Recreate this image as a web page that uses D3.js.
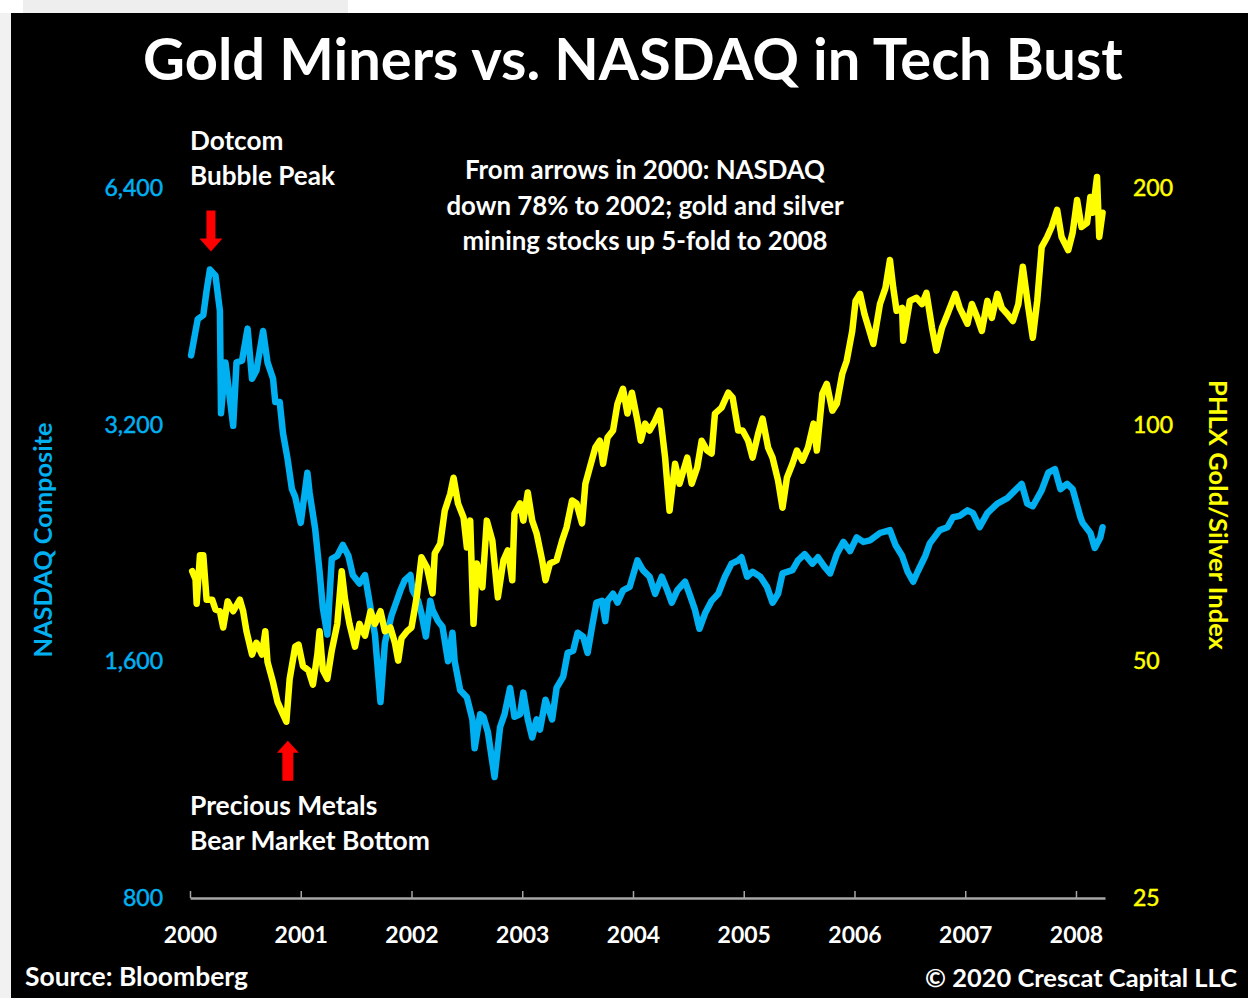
<!DOCTYPE html>
<html>
<head>
<meta charset="utf-8">
<title>Gold Miners vs. NASDAQ in Tech Bust</title>
<script src="https://cdnjs.cloudflare.com/ajax/libs/d3/7.8.5/d3.min.js"></script>
<style>
    body { margin: 0; background: #fff; }
    svg text { font-family: Lato, "Open Sans", sans-serif; }
</style>
</head>
<body>
<div id="chart"></div>
<script>
// NASDAQ Composite, [decimal year, index level]
const nasdaq = [
    [2000.01,3920],[2000.05,4210],[2000.07,4360],[2000.12,4410],[2000.15,4740],[2000.18,5040],[2000.23,4950],[2000.27,4470],
    [2000.28,3310],[2000.32,3840],[2000.39,3190],[2000.42,3840],[2000.47,3860],[2000.52,4240],[2000.56,3660],[2000.60,3750],
    [2000.66,4210],[2000.70,3840],[2000.75,3660],[2000.77,3420],[2000.81,3420],[2000.84,3120],[2000.88,2900],[2000.92,2650],
    [2000.95,2590],[2001.00,2400],[2001.06,2780],[2001.08,2620],[2001.13,2360],[2001.17,2080],[2001.20,1870],[2001.24,1730],
    [2001.28,2160],[2001.33,2180],[2001.38,2250],[2001.43,2180],[2001.47,2060],[2001.53,2010],[2001.58,2060],[2001.63,1870],
    [2001.67,1730],[2001.72,1420],[2001.76,1690],[2001.82,1830],[2001.90,1970],[2001.94,2030],[2001.99,2060],[2002.01,1970],
    [2002.06,1910],[2002.09,1840],[2002.13,1720],[2002.17,1910],[2002.19,1860],[2002.24,1800],[2002.28,1770],[2002.33,1600],
    [2002.37,1740],[2002.39,1600],[2002.44,1470],[2002.50,1440],[2002.55,1350],[2002.57,1240],[2002.62,1370],[2002.65,1360],
    [2002.69,1300],[2002.75,1140],[2002.80,1320],[2002.84,1370],[2002.89,1480],[2002.93,1360],[2002.98,1370],[2003.01,1460],
    [2003.05,1350],[2003.09,1280],[2003.13,1350],[2003.16,1310],[2003.21,1430],[2003.27,1350],[2003.31,1480],[2003.37,1530],
    [2003.41,1640],[2003.46,1650],[2003.50,1740],[2003.55,1720],[2003.59,1640],[2003.63,1770],[2003.67,1900],[2003.72,1910],
    [2003.75,1800],[2003.77,1910],[2003.82,1950],[2003.86,1900],[2003.91,1970],[2003.97,1990],[2004.04,2150],[2004.09,2090],
    [2004.15,2050],[2004.20,1950],[2004.26,2050],[2004.31,1970],[2004.35,1900],[2004.40,1970],[2004.47,2020],[2004.51,1950],
    [2004.56,1860],[2004.60,1760],[2004.65,1840],[2004.71,1910],[2004.77,1950],[2004.83,2050],[2004.89,2130],[2004.95,2150],
    [2004.98,2170],[2005.03,2050],[2005.08,2080],[2005.15,2050],[2005.21,1990],[2005.26,1900],[2005.31,1950],[2005.35,2070],
    [2005.44,2090],[2005.49,2150],[2005.55,2190],[2005.62,2130],[2005.67,2170],[2005.73,2110],[2005.78,2070],[2005.84,2190],
    [2005.90,2270],[2005.96,2210],[2006.02,2300],[2006.08,2270],[2006.14,2280],[2006.23,2330],[2006.32,2350],[2006.37,2250],
    [2006.43,2180],[2006.48,2080],[2006.53,2020],[2006.57,2080],[2006.64,2180],[2006.68,2260],[2006.77,2350],[2006.84,2370],
    [2006.89,2440],[2006.95,2450],[2007.02,2490],[2007.07,2470],[2007.13,2370],[2007.20,2470],[2007.29,2540],[2007.38,2580],
    [2007.45,2640],[2007.51,2690],[2007.56,2540],[2007.61,2520],[2007.69,2640],[2007.75,2780],[2007.81,2810],[2007.86,2650],
    [2007.92,2690],[2007.97,2650],[2008.04,2440],[2008.06,2400],[2008.13,2330],[2008.17,2230],[2008.22,2300],[2008.24,2370]
];

// PHLX Gold/Silver Index (XAU), [decimal year, index level]
const xau = [
    [2000.02,65.1],[2000.05,63.6],[2000.06,59.2],[2000.09,68.2],[2000.12,68.2],[2000.15,59.9],[2000.20,59.9],[2000.23,58.2],
    [2000.27,57.9],[2000.30,55.2],[2000.34,59.6],[2000.39,57.9],[2000.45,59.9],[2000.48,57.9],[2000.51,54.6],[2000.56,51.0],
    [2000.60,52.8],[2000.65,51.0],[2000.68,54.6],[2000.70,49.9],[2000.75,47.0],[2000.79,44.4],[2000.84,42.8],[2000.87,41.9],
    [2000.90,47.5],[2000.95,52.2],[2000.98,52.5],[2001.02,49.3],[2001.07,48.7],[2001.11,46.7],[2001.15,51.0],[2001.17,54.6],
    [2001.20,48.7],[2001.24,47.5],[2001.28,51.6],[2001.33,55.8],[2001.37,65.1],[2001.40,59.9],[2001.44,55.8],[2001.49,52.2],
    [2001.53,55.8],[2001.58,53.9],[2001.63,57.9],[2001.67,55.8],[2001.72,57.9],[2001.76,54.6],[2001.81,55.2],[2001.85,52.8],
    [2001.88,50.1],[2001.91,53.5],[2001.96,54.6],[2002.00,55.2],[2002.05,60.7],[2002.09,67.8],[2002.14,65.8],[2002.19,61.0],
    [2002.21,68.6],[2002.26,70.6],[2002.30,77.7],[2002.35,81.7],[2002.38,85.6],[2002.42,79.4],[2002.47,76.2],[2002.50,69.8],
    [2002.53,75.5],[2002.56,55.8],[2002.59,66.6],[2002.64,62.1],[2002.68,75.5],[2002.73,71.2],[2002.78,60.3],[2002.83,67.2],
    [2002.87,69.2],[2002.91,63.4],[2002.93,77.1],[2002.98,79.4],[2003.01,75.5],[2003.05,82.0],[2003.09,75.5],[2003.13,72.7],
    [2003.18,67.2],[2003.21,63.4],[2003.25,66.6],[2003.31,67.2],[2003.36,71.2],[2003.40,74.0],[2003.45,80.1],[2003.49,79.4],
    [2003.54,74.9],[2003.57,84.1],[2003.61,88.2],[2003.66,93.5],[2003.70,95.4],[2003.73,89.2],[2003.77,96.3],[2003.82,98.3],
    [2003.86,106.3],[2003.91,111.1],[2003.95,103.3],[2003.99,109.8],[2004.04,101.2],[2004.07,95.4],[2004.11,100.3],[2004.15,98.3],
    [2004.20,101.2],[2004.24,104.2],[2004.29,90.8],[2004.33,77.7],[2004.38,89.2],[2004.42,84.1],[2004.49,90.8],[2004.53,84.1],
    [2004.58,88.2],[2004.62,95.4],[2004.67,92.7],[2004.71,91.9],[2004.74,103.3],[2004.80,105.1],[2004.86,109.8],[2004.90,108.2],
    [2004.95,98.3],[2004.99,98.3],[2005.04,95.4],[2005.08,90.8],[2005.13,97.4],[2005.17,101.8],[2005.22,93.5],[2005.26,90.8],
    [2005.31,84.9],[2005.35,78.4],[2005.39,85.6],[2005.44,89.2],[2005.48,92.7],[2005.53,90.0],[2005.58,93.5],[2005.63,100.3],
    [2005.66,92.7],[2005.71,109.5],[2005.75,112.7],[2005.80,104.2],[2005.84,106.3],[2005.89,116.1],[2005.93,120.6],[2005.98,131.6],
    [2006.01,143.7],[2006.05,146.7],[2006.09,138.3],[2006.17,126.7],[2006.23,142.4],[2006.28,149.3],[2006.32,162.0],[2006.35,149.3],
    [2006.38,139.6],[2006.43,140.8],[2006.44,127.9],[2006.50,143.7],[2006.56,145.0],[2006.61,142.4],[2006.65,147.1],[2006.70,132.8],
    [2006.74,124.2],[2006.79,132.8],[2006.84,138.3],[2006.91,146.7],[2006.95,140.8],[2007.02,134.4],[2007.06,142.4],[2007.11,136.7],
    [2007.15,131.6],[2007.20,143.7],[2007.24,136.7],[2007.29,146.7],[2007.33,140.8],[2007.38,138.3],[2007.43,135.5],[2007.48,142.4],
    [2007.52,158.8],[2007.57,140.8],[2007.61,129.0],[2007.65,143.7],[2007.69,168.2],[2007.74,173.3],[2007.78,178.4],[2007.83,187.6],
    [2007.87,173.3],[2007.93,166.7],[2007.97,175.5],[2008.01,193.1],[2008.05,178.4],[2008.10,180.6],[2008.13,194.8],[2008.15,186.0],
    [2008.19,206.6],[2008.21,173.3],[2008.24,186.0]
];

const yearTicks = [2000, 2001, 2002, 2003, 2004, 2005, 2006, 2007, 2008];
const nasdaqTicks = [800, 1600, 3200, 6400];
const xauTicks = [25, 50, 100, 200];

const titleText = "Gold Miners vs. NASDAQ in Tech Bust";
const peakNote = ["Dotcom", "Bubble Peak"];
const midNote = ["From arrows in 2000: NASDAQ", "down 78% to 2002; gold and silver", "mining stocks up 5-fold to 2008"];
const bottomNote = ["Precious Metals", "Bear Market Bottom"];
const sourceText = "Source: Bloomberg";
const creditText = "\u00A9 2020 Crescat Capital LLC";

const BLUE = "#00b0f0", YELLOW = "#ffff00", RED = "#ff0000";
const width = 1248, height = 998;

const svg = d3.select("#chart").append("svg")
    .attr("width", width)
    .attr("height", height);

// page around the black slide
svg.append("rect").attr("width", width).attr("height", height).attr("fill", "#fff");
svg.append("rect").attr("x", 0).attr("y", 13).attr("width", 11).attr("height", height - 13).attr("fill", "#f1f1f1");
svg.append("rect").attr("x", 23).attr("y", 0).attr("width", 325).attr("height", 13).attr("fill", "#eeeeee");
svg.append("rect").attr("x", 11).attr("y", 13).attr("width", width - 11).attr("height", height - 13).attr("fill", "#000");

// scales
const x = d3.scaleLinear().domain([2000, 2008.262]).range([190, 1105]);
const yL = d3.scaleLog().base(2).domain([800, 6400]).range([898, 188]);
const yR = d3.scaleLog().base(2).domain([25, 200]).range([898, 188]);

// shrink or grow a text so it spans the given width
function fitWidth(sel, w) {
    const fs = parseFloat(sel.attr("font-size"));
    const cur = sel.node().getComputedTextLength();
    sel.attr("font-size", (fs * w / cur).toFixed(2));
    return fs * w / cur;
}

// title
const title = svg.append("text")
    .attr("x", 633).attr("y", 80)
    .attr("text-anchor", "middle")
    .attr("fill", "#fff")
    .attr("font-weight", "bold")
    .attr("font-size", 56)
    .text(titleText);
fitWidth(title, 980);

// x axis
const xAxis = d3.axisBottom(x)
    .tickValues(yearTicks)
    .tickFormat(d3.format("d"))
    .tickSizeInner(-7)
    .tickSizeOuter(0)
    .tickPadding(29);
const gx = svg.append("g").attr("transform", "translate(0,898)").call(xAxis);
gx.select(".domain").attr("stroke", "#a6a6a6").attr("stroke-width", 2.5);
gx.selectAll(".tick line").attr("stroke", "#a6a6a6").attr("stroke-width", 1.5);
gx.selectAll(".tick text")
    .attr("fill", "#fff")
    .attr("font-size", 23)
    .attr("font-weight", "bold")
    .attr("font-family", "Lato, sans-serif");

// left axis (NASDAQ)
const gl = svg.append("g").attr("transform", "translate(190,0)")
    .call(d3.axisLeft(yL).tickValues(nasdaqTicks).tickFormat(d3.format(",")).tickSize(0).tickPadding(27));
gl.select(".domain").remove();
gl.selectAll(".tick text")
    .attr("fill", BLUE).attr("stroke", BLUE).attr("stroke-width", 0.5)
    .attr("font-size", 23).attr("font-family", "Lato, sans-serif");

// right axis (XAU)
const gr = svg.append("g").attr("transform", "translate(1105,0)")
    .call(d3.axisRight(yR).tickValues(xauTicks).tickFormat(d3.format("d")).tickSize(0).tickPadding(28));
gr.select(".domain").remove();
gr.selectAll(".tick text")
    .attr("fill", YELLOW).attr("stroke", YELLOW).attr("stroke-width", 0.5)
    .attr("font-size", 23).attr("font-family", "Lato, sans-serif");

// axis titles
const lt = svg.append("text")
    .attr("transform", "translate(52,540) rotate(-90)")
    .attr("text-anchor", "middle")
    .attr("fill", BLUE).attr("font-weight", "bold").attr("font-size", 22)
    .text("NASDAQ Composite");
fitWidth(lt, 235);
const rt = svg.append("text")
    .attr("transform", "translate(1209,515) rotate(90)")
    .attr("text-anchor", "middle")
    .attr("fill", YELLOW).attr("font-weight", "bold").attr("font-size", 22)
    .text("PHLX Gold/Silver Index");
fitWidth(rt, 270);

// series
const lineL = d3.line().x(d => x(d[0])).y(d => yL(d[1]));
const lineR = d3.line().x(d => x(d[0])).y(d => yR(d[1]));

svg.append("path").datum(nasdaq)
    .attr("d", lineL)
    .attr("fill", "none").attr("stroke", BLUE).attr("stroke-width", 6.5)
    .attr("stroke-linejoin", "round").attr("stroke-linecap", "round");
svg.append("path").datum(xau)
    .attr("d", lineR)
    .attr("fill", "none").attr("stroke", YELLOW).attr("stroke-width", 6.5)
    .attr("stroke-linejoin", "round").attr("stroke-linecap", "round");

// red arrows: dir 1 points down, -1 points up
function arrowPath(cx, tipY, dir, len, shaftW, headW, headH) {
    const base = tipY - dir * headH, tail = tipY - dir * len;
    return `M${cx - shaftW / 2},${tail}L${cx + shaftW / 2},${tail}L${cx + shaftW / 2},${base}` +
        `L${cx + headW / 2},${base}L${cx},${tipY}L${cx - headW / 2},${base}L${cx - shaftW / 2},${base}Z`;
}
const peak = d3.greatest(nasdaq, d => d[1]);
const bottom = d3.least(xau, d => d[1]);
svg.append("path")
    .attr("d", arrowPath(x(peak[0]) + 1, yL(peak[1]) - 18, 1, 41, 9, 23, 13))
    .attr("fill", RED);
svg.append("path")
    .attr("d", arrowPath(x(bottom[0]) + 1.5, yR(bottom[1]) + 19, -1, 40, 11, 22, 12))
    .attr("fill", RED);

// annotations
function block(lines, xPos, y0, step, anchor, size) {
    const g = svg.append("g");
    lines.forEach((t, i) => {
        g.append("text")
            .attr("x", xPos).attr("y", y0 + i * step)
            .attr("text-anchor", anchor)
            .attr("fill", "#fff").attr("font-weight", "bold")
            .attr("font-size", size)
            .text(t);
    });
    return g;
}
const pk = block(peakNote, 190, 150, 35, "start", 23);
const pkSize = fitWidth(pk.selectAll("text").filter((d, i) => i === 1), 145);
pk.selectAll("text").attr("font-size", pkSize.toFixed(2));

const md = block(midNote, 645, 179, 35.5, "middle", 23);
const mdSize = fitWidth(md.selectAll("text").filter((d, i) => i === 0), 360);
md.selectAll("text").attr("font-size", mdSize.toFixed(2));

const bt = block(bottomNote, 190, 815, 35, "start", 23);
const btSize = fitWidth(bt.selectAll("text").filter((d, i) => i === 1), 240);
bt.selectAll("text").attr("font-size", btSize.toFixed(2));

// footer
const src = svg.append("text")
    .attr("x", 25).attr("y", 986)
    .attr("fill", "#fff").attr("font-weight", "bold").attr("font-size", 23)
    .text(sourceText);
fitWidth(src, 223);
const cr = svg.append("text")
    .attr("x", 1237).attr("y", 987)
    .attr("text-anchor", "end")
    .attr("fill", "#fff").attr("font-weight", "bold").attr("font-size", 23)
    .text(creditText);
fitWidth(cr, 312);
</script>
</body>
</html>
